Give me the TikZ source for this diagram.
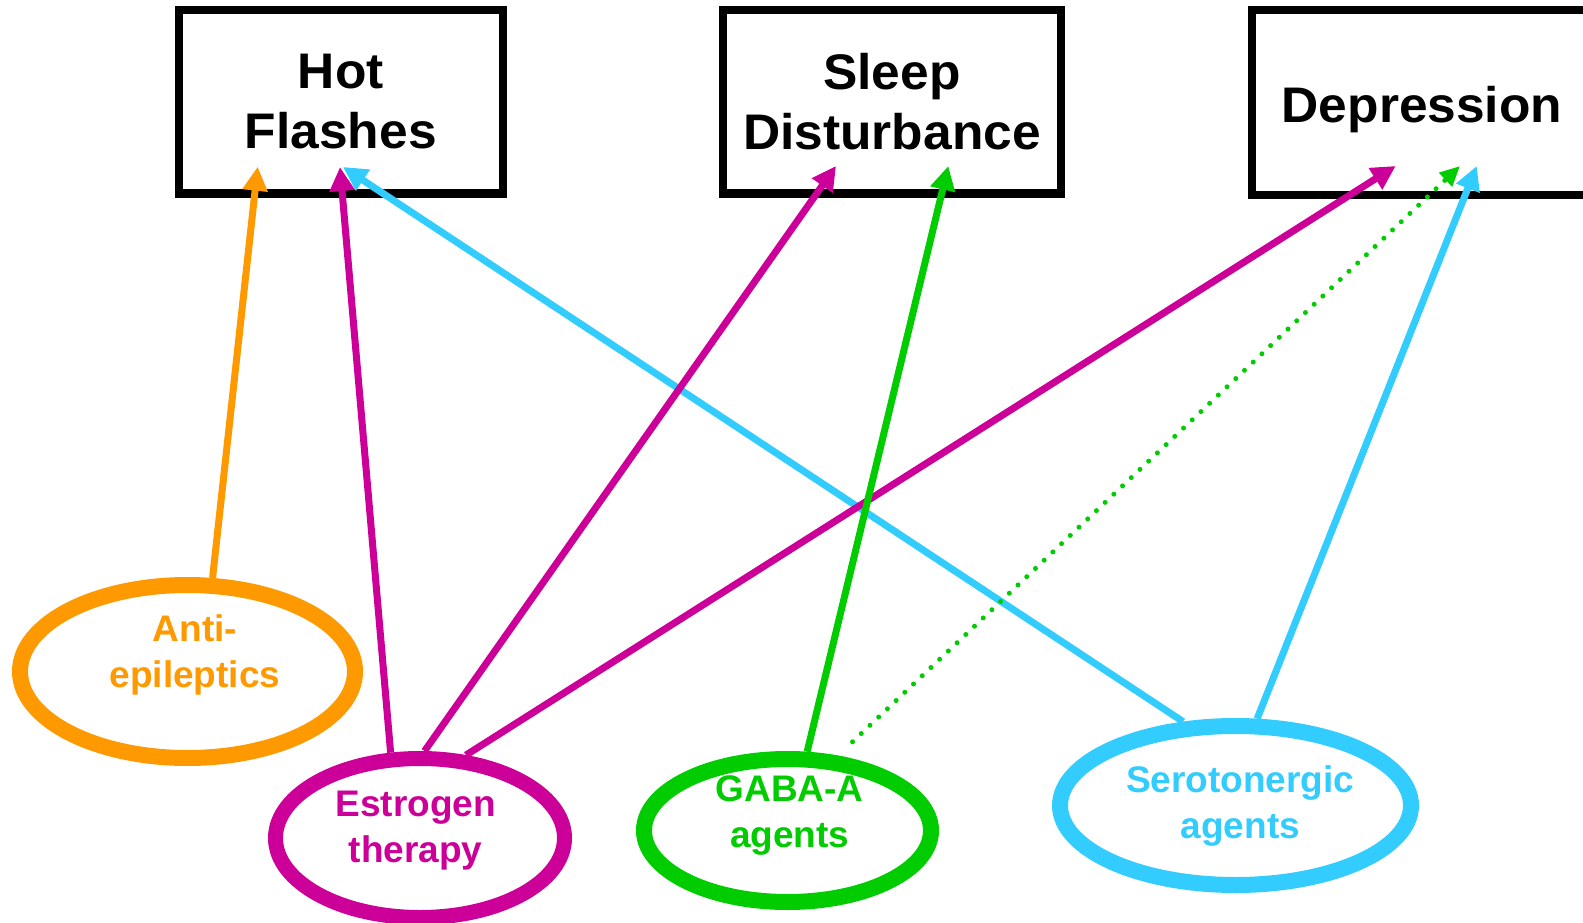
\documentclass[tikz,border=0pt]{standalone}
\usepackage{fontspec}
\setmainfont{Liberation Sans}
\definecolor{OrangeAntiEpi}{HTML}{FF9900}
\definecolor{MagentaEstro}{HTML}{CC0099}
\definecolor{VertGaba}{HTML}{00CC00}
\definecolor{CyanSero}{HTML}{33CCFF}
\newfontfamily\boxfont[FakeStretch=1.03]{Liberation Sans}
\usetikzlibrary{arrows.meta}
\usetikzlibrary{shapes.geometric}

\begin{document}
\begin{tikzpicture}[x=1pt, y=-1pt,
    symptom/.style={draw, line width=8, minimum height=183.5, align=center, inner sep=0,
        font=\boxfont\fontsize{50}{60}\selectfont\bfseries},
    drug/.style={draw=#1, ellipse, line width=16, inner sep=0},
    drugtext/.style={text=#1, align=center, inner sep=0, font=\fontsize{37}{46}\selectfont\bfseries},
    link/.style={draw=#1, line width=7, arrows={-Stealth[length=24pt, width=24pt, inset=0]}}]
    \useasboundingbox (0,0) rectangle (1583,923);
    % Symptoms on top
    \node[symptom, minimum width=323.5] (hot) at (340.75,101.75) {Hot\\Flashes};
    \node[symptom, minimum width=338] (sleep) at (892,101.75) {Sleep\\Disturbance};
    \node[symptom, minimum width=340, minimum height=185.5, text height=40pt, text depth=0pt] (depr) at (1422,102.5) {Depression};

    % Treatments below
    \node[drug=OrangeAntiEpi, minimum width=335, minimum height=173] (anti) at (187.5,671.5) {};
    \node[drug=MagentaEstro, line width=15, minimum width=289, minimum height=159] (estro) at (420,838) {};
    \node[drug=VertGaba, minimum width=287, minimum height=143] (gaba) at (787.5,830.5) {};
    \node[drug=CyanSero, minimum width=351, minimum height=159] (sero) at (1235.5,805.5) {};
    \node[drugtext=OrangeAntiEpi] (antiLbl) at (195,655.4) {Anti-\\epileptics};
    \node[drugtext=MagentaEstro] (estroLbl) at (415.7,830.6) {Estrogen\\therapy};
    \node[drugtext=VertGaba] (gabaLbl) at (789.7,815.1) {GABA-A\\agents};
    \node[drugtext=CyanSero] (seroLbl) at (1240.3,806.1) {Serotonergic\\agents};

    % Arrow ends inside the boxes
    \coordinate (hotAE) at (257.7,166.7);
    \coordinate (hotET) at (340,167);
    \coordinate (hotSE) at (343,167);
    \coordinate (sleepET) at (836,166);
    \coordinate (sleepGA) at (948.3,166);
    \coordinate (deprET) at (1395.7,166);
    \coordinate (deprGA) at (1460,166);
    \coordinate (deprSE) at (1476.7,166);

    % Links
    \draw[link=CyanSero] (sero.122) -- (hotSE);
    \draw[link=CyanSero] (sero.76) -- (deprSE);
    \draw[link=OrangeAntiEpi] (anti.75) -- (hotAE);
    \draw[link=MagentaEstro] (estro.109) -- (hotET);
    \draw[link=MagentaEstro] (estro.87) -- (sleepET);
    \draw[link=MagentaEstro] (estro.61) -- (deprET);
    \draw[link=VertGaba] (gaba.76) -- (sleepGA);
    \draw[VertGaba, line width=5, line cap=round, dash pattern=on 0pt off 12pt, shorten <=20pt,
        arrows={-Stealth[length=20pt, width=18pt, inset=0]}] (gaba.56.5) -- (deprGA);
\end{tikzpicture}
\end{document}
